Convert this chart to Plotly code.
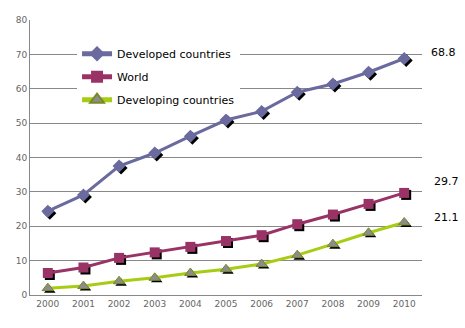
import plotly.graph_objects as go

years = ["2000","2001","2002","2003","2004","2005","2006","2007","2008","2009","2010"]
developed = [24.4, 29.1, 37.5, 41.3, 46.2, 50.9, 53.4, 59.0, 61.4, 64.8, 68.8]
world = [6.4, 8.0, 10.8, 12.4, 14.0, 15.7, 17.4, 20.6, 23.4, 26.5, 29.7]
developing = [2.0, 2.6, 4.0, 5.0, 6.4, 7.5, 9.0, 11.6, 14.8, 18.1, 21.1]
series_names = ["Developed countries", "World", "Developing countries"]
end_labels = ["68.8", "29.7", "21.1"]

FONT = "DejaVu Sans"
W, H = 465, 328
ML, MR, MT, MB = 30, 43, 20, 33
pw = W - ML - MR
ph = H - MT - MB
ymax = 80
xr = [-0.5, len(years) - 0.5]
dx = 2 * (xr[1] - xr[0]) / pw
dy = 2 * ymax / ph

fig = go.Figure()

# invisible trace to establish main axes
fig.add_trace(go.Scatter(x=years, y=developed, mode="lines", line=dict(width=0), showlegend=False,
                         hoverinfo="skip", opacity=0))

# shadows
for vals, sym in [(developed, "diamond"), (world, "square"), (developing, "triangle-up")]:
    fig.add_trace(go.Scatter(x=years, y=vals, mode="markers", xaxis="x2", yaxis="y2",
                             marker=dict(symbol=sym, size=10, color="black"),
                             showlegend=False, hoverinfo="skip"))

styles = [
    dict(line=dict(color="#6a6a9e", width=3), marker=dict(symbol="diamond", size=10, color="#6a6a9e")),
    dict(line=dict(color="#993366", width=3), marker=dict(symbol="square", size=10, color="#993366")),
    dict(line=dict(color="#a6cc14", width=3), marker=dict(symbol="triangle-up", size=10, color="#8c8c8c",
                                                         line=dict(color="#7a8a20", width=1))),
]
for i, (name, vals, st) in enumerate(zip(series_names, [developed, world, developing], styles)):
    fig.add_trace(go.Scatter(x=years, y=vals, mode="lines+markers", name=name, xaxis="x3", yaxis="y3",
                             legendgroup=f"g{i}", **st))

for vals, lab, ys, xs in zip([developed, world, developing], end_labels, [6, 11, 5], [25, 28, 28]):
    fig.add_annotation(x=len(years) - 1, y=vals[-1], xref="x3", yref="y3", text=lab, showarrow=False,
                       xanchor="left", xshift=xs, yshift=ys,
                       font=dict(family=FONT, size=11, color="black"))

axis_common = dict(showline=True, linecolor="#888888", linewidth=1)
fig.update_layout(
    width=W, height=H,
    margin=dict(l=ML, r=MR, t=MT, b=MB),
    paper_bgcolor="white", plot_bgcolor="white",
    font=dict(family=FONT, size=9, color="#666666"),
    xaxis=dict(type="category", range=xr, showgrid=False, ticks="", tickfont=dict(size=9, color="#666666"),
               **axis_common),
    yaxis=dict(range=[0, ymax], dtick=10, showgrid=True, gridcolor="#888888", gridwidth=1, ticks="",
               tickfont=dict(size=9, color="#666666"), zeroline=False, **axis_common),
    xaxis2=dict(type="category", range=[xr[0] - dx, xr[1] - dx], overlaying="x", visible=False),
    yaxis2=dict(range=[dy, ymax + dy], overlaying="y", visible=False),
    xaxis3=dict(type="category", range=xr, overlaying="x", visible=False),
    yaxis3=dict(range=[0, ymax], overlaying="y", visible=False),
    legend=dict(x=0.12, y=0.93, xanchor="left", yanchor="top", bgcolor="white",
                font=dict(family=FONT, size=11, color="black"), itemwidth=30, tracegroupgap=4,
                itemsizing="constant"),
    showlegend=True,
)

fig.write_html("out.html")
